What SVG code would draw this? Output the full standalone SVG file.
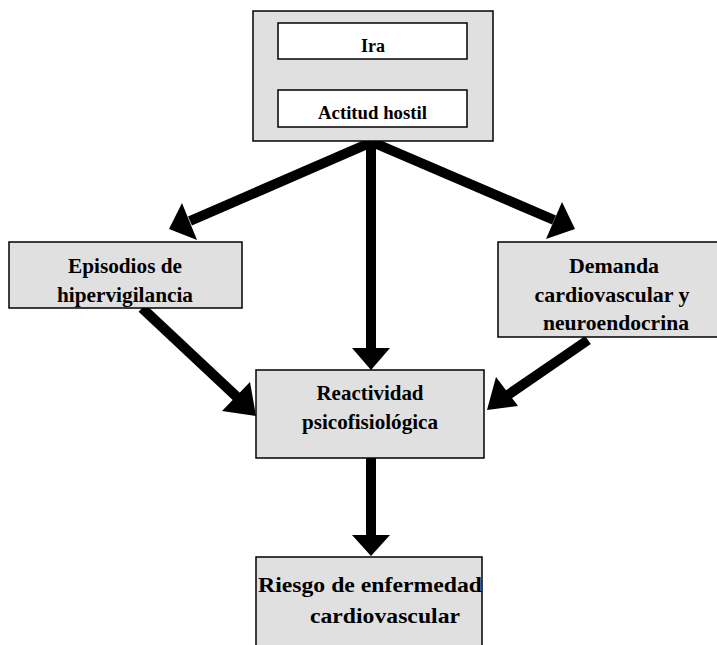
<svg xmlns="http://www.w3.org/2000/svg" width="717" height="645" viewBox="0 0 717 645">
<defs>
<style>
.box{fill:#e0e0e0;stroke:#000;stroke-width:1.5}
.inner{fill:#fff;stroke:#000;stroke-width:1.5}
.t{font-family:"Liberation Serif","Times New Roman",serif;font-weight:bold;font-size:21px;fill:#000;text-anchor:middle}
.ts{font-size:18px}
.ln{stroke:#000;stroke-width:10;fill:none}
.hd{fill:#000}
</style>
</defs>
<g id="connectors">
<line class="ln" x1="372" y1="142" x2="190" y2="221"/>
<polygon class="hd" points="169,229 182,203 197,240"/>
<line class="ln" x1="372" y1="142" x2="554" y2="220"/>
<polygon class="hd" points="575,229 562,202 546,239"/>
<line class="ln" x1="371" y1="142" x2="371" y2="352"/>
<polygon class="hd" points="371,370 352,348 390,348"/>
<line class="ln" x1="142" y1="308" x2="238" y2="398"/>
<polygon class="hd" points="256,416 222,411 250,382"/>
<line class="ln" x1="588" y1="340" x2="505" y2="397"/>
<polygon class="hd" points="487,410 496,377 518,406"/>
<line class="ln" x1="371" y1="458" x2="371" y2="539"/>
<polygon class="hd" points="371,556 352,535 390,535"/>
</g>
<g id="top">
<rect class="box" x="253" y="11" width="240" height="130"/>
<g id="ira"><rect class="inner" x="278" y="23" width="189" height="36"/><text class="t ts" x="373" y="52" textLength="24" lengthAdjust="spacingAndGlyphs">Ira</text></g>
<g id="actitud"><rect class="inner" x="278" y="90" width="189" height="37"/><text class="t ts" x="372.5" y="119" textLength="109" lengthAdjust="spacingAndGlyphs">Actitud hostil</text></g>
</g>
<g id="episodios"><rect class="box" x="9" y="242" width="233" height="66"/><text class="t" x="125" y="273" textLength="114" lengthAdjust="spacingAndGlyphs">Episodios de</text><text class="t" x="125" y="302" textLength="136" lengthAdjust="spacingAndGlyphs">hipervigilancia</text></g>
<g id="demanda"><rect class="box" x="498" y="242" width="220" height="95"/><text class="t" x="614" y="273" textLength="90" lengthAdjust="spacingAndGlyphs">Demanda</text><text class="t" x="612" y="302" textLength="155" lengthAdjust="spacingAndGlyphs">cardiovascular y</text><text class="t" x="616" y="330" textLength="146" lengthAdjust="spacingAndGlyphs">neuroendocrina</text></g>
<g id="reactividad"><rect class="box" x="256" y="370" width="228" height="88"/><text class="t" x="370" y="400" textLength="107" lengthAdjust="spacingAndGlyphs">Reactividad</text><text class="t" x="370" y="429" textLength="136" lengthAdjust="spacingAndGlyphs">psicofisiológica</text></g>
<g id="riesgo"><rect class="box" x="256" y="557" width="226" height="95"/><text class="t" x="370" y="592" font-size="22" textLength="224" lengthAdjust="spacingAndGlyphs">Riesgo de enfermedad</text><text class="t" x="385" y="623" font-size="22" textLength="150" lengthAdjust="spacingAndGlyphs">cardiovascular</text></g>
</svg>
